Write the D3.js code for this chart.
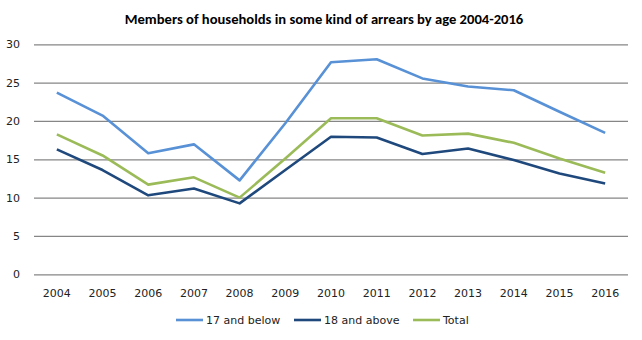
<!DOCTYPE html>
<html><head><meta charset="utf-8">
<script src="https://cdn.jsdelivr.net/npm/d3@7"></script>
<style>body{margin:0;background:#fff}</style>
</head><body>
<svg id="c" width="642" height="340"></svg>
<script>
const years = ["2004","2005","2006","2007","2008","2009","2010","2011","2012","2013","2014","2015","2016"];
const below17 = [23.7,20.7,15.8,16.95,12.25,19.7,27.65,28.05,25.55,24.5,24.0,21.2,18.45];
const above18 = [16.3,13.6,10.3,11.2,9.25,13.6,17.95,17.85,15.7,16.4,14.9,13.15,11.85];
const total = [18.25,15.5,11.7,12.65,10.0,15.1,20.35,20.35,18.1,18.35,17.15,15.1,13.25];
const yTicks = [0,5,10,15,20,25,30];
const seriesNames = ["17 and below","18 and above","Total"];
const colors = ["#5891D6","#1F497D","#9BBB59"];
const seriesData = [below17, above18, total];

(function(){
const svg = d3.select("#c");
const mL = 34, mR = 628, mT = 44.3, mB = 274.3;
const x = d3.scaleBand().domain(years).range([mL, mR]);
const y = d3.scaleLinear().domain([0,30]).range([mB, mT]);

svg.append("text").attr("x",324).attr("y",24).attr("text-anchor","middle")
  .attr("font-family","Carlito, 'Liberation Sans', sans-serif").attr("font-weight","bold")
  .attr("font-size",14.6).attr("fill","#000").text("Members of households in some kind of arrears by age 2004-2016");

const yAxis = d3.axisLeft(y).tickValues(yTicks).tickSize(-(mR-mL)).tickPadding(14);
const gy = svg.append("g").attr("transform",`translate(${mL},0)`).call(yAxis);
gy.select(".domain").remove();
gy.selectAll(".tick line").attr("stroke","#868686").attr("stroke-width",1.3);
gy.selectAll(".tick text").attr("font-family","'DejaVu Sans', Verdana, sans-serif").attr("font-size",11).attr("fill","#222");

const xAxis = d3.axisBottom(x).tickSize(0).tickPadding(15);
const gx = svg.append("g").attr("transform",`translate(0,${mB})`).call(xAxis);
gx.select(".domain").remove();
gx.selectAll(".tick text").attr("font-family","'DejaVu Sans', Verdana, sans-serif").attr("font-size",11).attr("fill","#222");

const line = d3.line().x((d,i)=>x(years[i])+x.bandwidth()/2).y(d=>y(d));
seriesData.forEach((s,k)=>{
  svg.append("path").datum(s).attr("d",line).attr("fill","none")
    .attr("stroke",colors[k]).attr("stroke-width",2.6).attr("stroke-linejoin","round");
});

const legX = [176, 294, 413];
const lg = svg.append("g");
seriesNames.forEach((n,k)=>{
  lg.append("line").attr("x1",legX[k]).attr("x2",legX[k]+27).attr("y1",320).attr("y2",320)
    .attr("stroke",colors[k]).attr("stroke-width",2.6);
  lg.append("text").attr("x",legX[k]+30).attr("y",324).attr("font-family","'DejaVu Sans', Verdana, sans-serif")
    .attr("font-size",11).attr("fill","#222").text(n);
});
})();
</script>
</body></html>
